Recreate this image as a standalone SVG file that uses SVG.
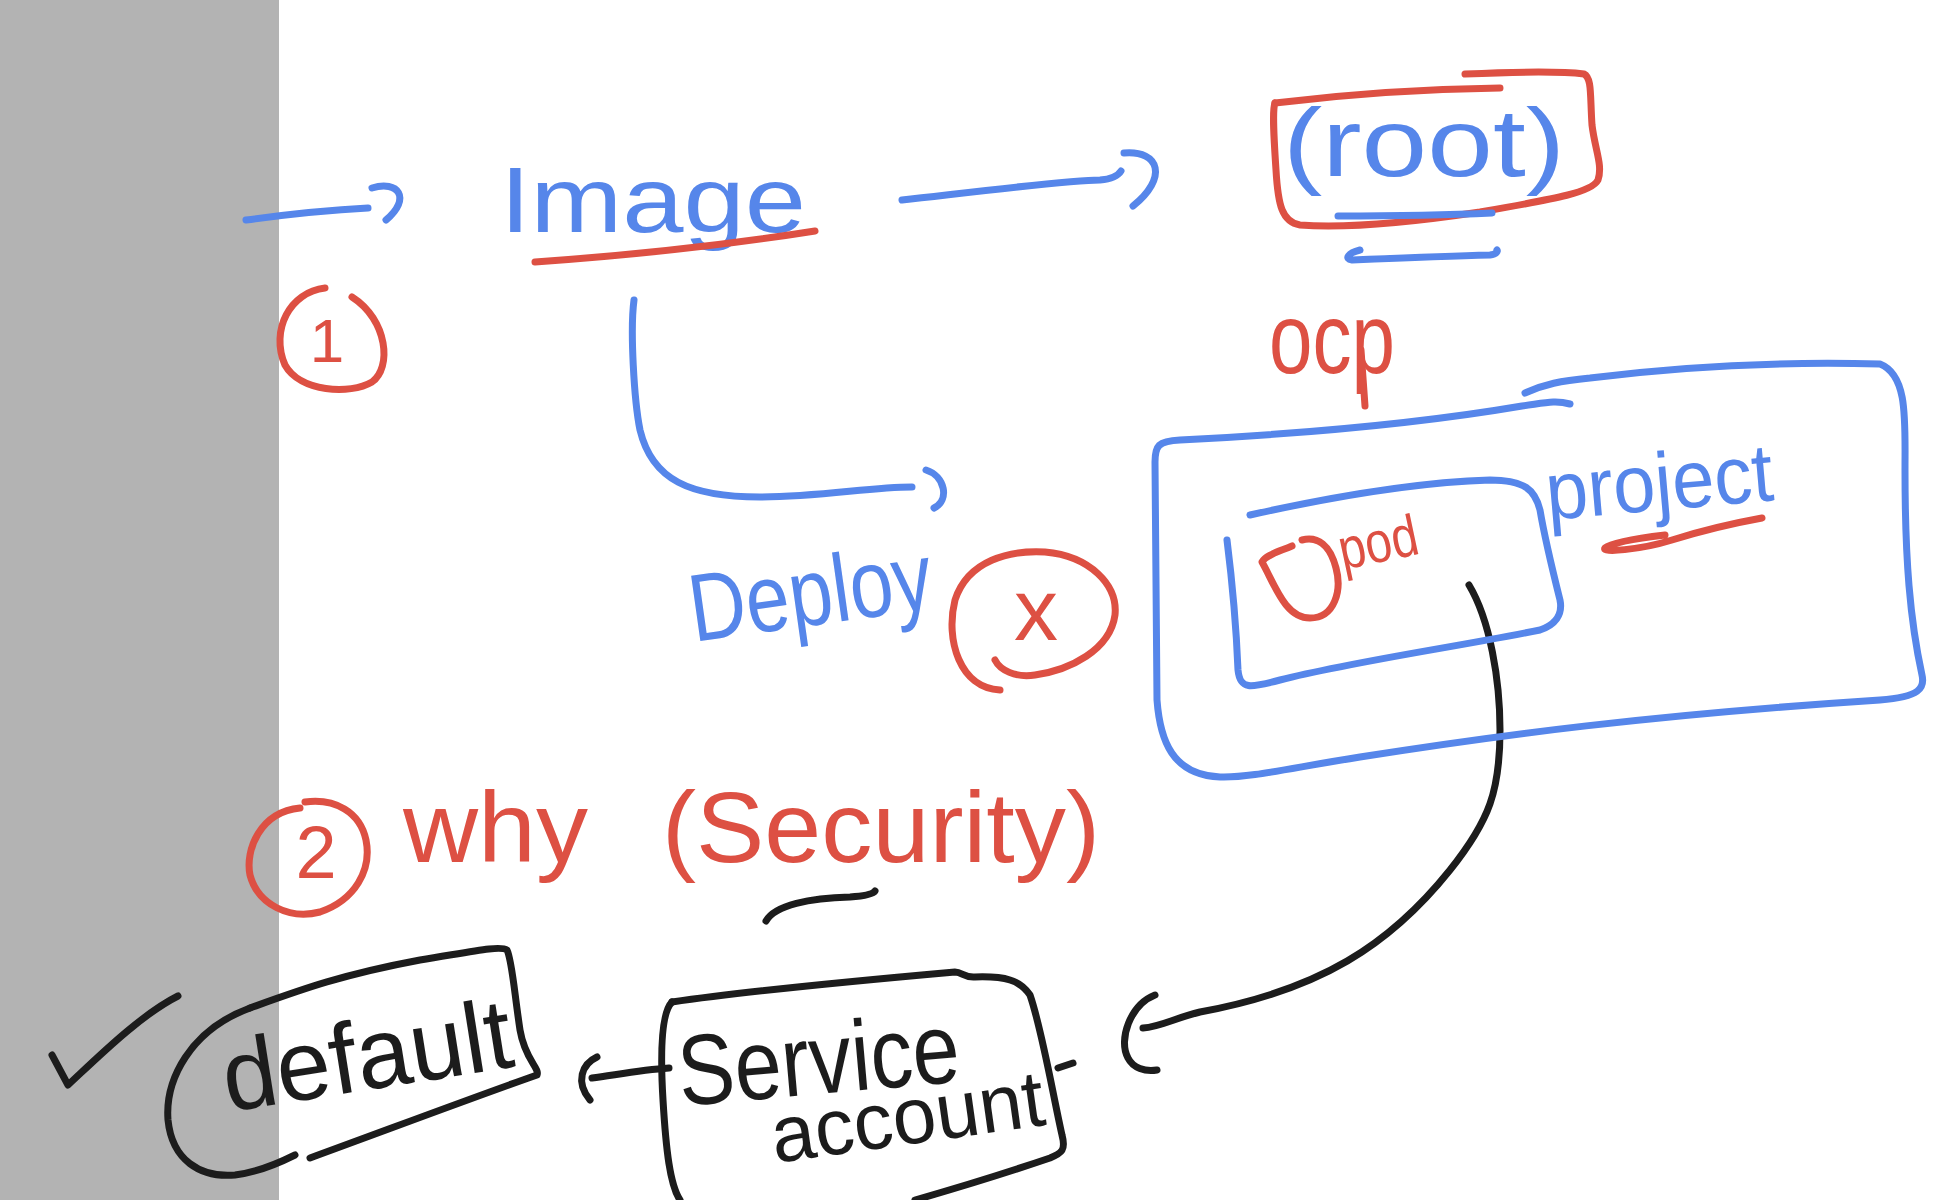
<svg xmlns="http://www.w3.org/2000/svg" width="1960" height="1200" viewBox="0 0 1960 1200">
<style>
.b{fill:none;stroke:#5686ea;stroke-width:7;stroke-linecap:round;stroke-linejoin:round}
.r{fill:none;stroke:#dd5043;stroke-width:7;stroke-linecap:round;stroke-linejoin:round}
.k{fill:none;stroke:#1c1c1c;stroke-width:7;stroke-linecap:round;stroke-linejoin:round}
.tb{fill:#5686ea;font-family:"Liberation Sans",Arial,sans-serif}
.tr{fill:#dd5043;font-family:"Liberation Sans",Arial,sans-serif}
.tk{fill:#1c1c1c;font-family:"Liberation Sans",Arial,sans-serif}
</style>
<rect x="0" y="0" width="1960" height="1200" fill="#ffffff"/>
<rect x="0" y="0" width="279" height="1200" fill="#b3b3b3"/>

<g id="connectors">
  <path class="b" d="M246,220 C290,214 330,210 368,208"/>
  <path class="b" d="M372,188 C398,180 412,198 386,220"/>
  <path class="b" d="M902,200 C990,190 1070,180 1100,180 C1112,179 1118,176 1121,171"/>
  <path class="b" d="M1124,153 C1160,150 1168,178 1133,206"/>
  <path class="b" d="M634,300 C630,330 634,400 640,430 C652,480 690,497 760,497 C820,497 870,487 912,487"/>
  <path class="b" d="M926,470 C945,476 950,500 934,508"/>
  <path class="k" d="M1469,585 C1490,620 1500,680 1500,730 C1500,790 1490,820 1450,870 C1390,945 1320,990 1200,1012 C1175,1018 1160,1027 1143,1028"/>
  <path class="k" d="M1155,995 C1130,1005 1118,1040 1128,1058 C1133,1068 1145,1072 1157,1070"/>
  <path class="k" d="M669,1068 C640,1070 615,1075 592,1078"/>
  <path class="k" d="M597,1057 C582,1064 575,1082 590,1100"/>
</g>

<g id="step1">
  <path class="r" d="M325,288 C290,292 270,330 285,365 C300,392 350,395 372,382 C392,368 388,320 352,297"/>
  <text class="tr" x="327" y="362" font-size="62" text-anchor="middle">1</text>
</g>

<g id="image">
  <text class="tb" x="500" y="232" font-size="92" textLength="306" lengthAdjust="spacingAndGlyphs">Image</text>
  <path class="r" d="M535,262 C620,256 720,246 815,231"/>
</g>

<g id="root">
  <path class="r" d="M1275,103 C1340,95 1420,89 1500,88"/>
  <path class="r" d="M1465,74 C1510,72 1560,71 1584,74 C1592,78 1590,95 1592,125 C1595,150 1603,165 1598,180 C1592,192 1560,198 1480,212 C1400,224 1340,228 1300,225 C1282,222 1278,205 1276,170 C1274,140 1272,110 1275,103"/>
  <text class="tb" x="1283" y="176" font-size="96" textLength="282" lengthAdjust="spacingAndGlyphs">(root)</text>
  <path class="b" d="M1338,216 C1400,216 1450,215 1492,213"/>
  <path class="b" d="M1360,250 C1348,253 1344,259 1352,260 C1400,258 1450,256 1490,255 C1497,254 1498,251 1497,250"/>
</g>

<g id="ocp">
  <text class="tr" x="1269" y="373" font-size="100" textLength="126" lengthAdjust="spacingAndGlyphs">ocp</text>
  <path class="r" d="M1361,350 L1365,406"/>
</g>

<g id="project">
  <path class="b" d="M1570,404 C1555,400 1545,403 1522,406 C1440,420 1340,432 1180,440 C1158,441 1155,446 1155,462 L1157,700 C1160,740 1172,775 1220,777 C1250,778 1290,768 1360,757 C1500,735 1650,715 1880,700 C1920,697 1925,688 1922,675 C1910,620 1905,560 1905,470 C1905,420 1908,375 1880,364 C1800,362 1700,364 1590,378 C1560,381 1545,384 1525,393"/>
  <text class="tb" x="1548" y="520" font-size="82" textLength="228" lengthAdjust="spacingAndGlyphs" transform="rotate(-5 1548 520)">project</text>
  <path class="r" d="M1665,535 C1640,538 1612,542 1605,548 C1600,553 1640,550 1672,540 C1710,528 1740,522 1762,518"/>
</g>

<g id="pod">
  <path class="b" d="M1250,515 C1340,495 1420,482 1490,480 C1525,480 1535,490 1540,510 C1545,540 1555,580 1560,600 C1563,615 1555,625 1540,630 C1450,648 1350,662 1280,680 C1250,688 1240,690 1238,670 C1236,620 1232,580 1227,540"/>
  <path class="r" d="M1292,546 C1278,552 1266,555 1262,562 C1275,585 1285,618 1310,618 C1335,618 1342,590 1336,568 C1330,545 1318,536 1302,540"/>
  <text class="tr" x="1343" y="570" font-size="58" textLength="80" lengthAdjust="spacingAndGlyphs" transform="rotate(-12 1343 570)">pod</text>
</g>

<g id="deploy">
  <text class="tb" x="694" y="642" font-size="96" textLength="244" lengthAdjust="spacingAndGlyphs" transform="rotate(-8 694 642)">Deploy</text>
</g>

<g id="deploy-x">
  <path class="r" d="M1000,690 C960,688 945,640 955,600 C968,560 1010,550 1045,552 C1090,556 1118,585 1115,615 C1110,650 1070,670 1035,675 C1015,678 1000,670 995,660"/>
  <text class="tr" x="1036" y="640" font-size="88" text-anchor="middle">x</text>
</g>

<g id="step2">
  <path class="r" d="M300,808 C260,812 245,850 250,875 C258,905 290,920 320,912 C355,900 372,870 366,840 C360,812 335,798 305,802"/>
  <text class="tr" x="316" y="878" font-size="74" text-anchor="middle">2</text>
</g>

<g id="why">
  <text class="tr" x="403" y="862" font-size="100" textLength="185" lengthAdjust="spacingAndGlyphs">why</text>
  <text class="tr" x="662" y="862" font-size="100" textLength="438" lengthAdjust="spacingAndGlyphs">(Security)</text>
  <path class="k" d="M766,921 C775,905 810,898 850,897 C865,896 873,894 875,891"/>
</g>

<g id="check">
  <path class="k" d="M52,1055 L68,1085 C95,1060 140,1015 178,996"/>
</g>

<g id="default">
  <path class="k" d="M250,1008 C300,990 340,975 420,960 C470,952 500,945 507,950 C512,960 514,990 520,1030 C525,1060 540,1068 537,1075 C480,1095 400,1125 310,1158"/>
  <path class="k" d="M250,1008 C190,1030 165,1080 168,1120 C172,1160 200,1178 235,1175 C260,1172 285,1160 295,1155"/>
  <text class="tk" x="228" y="1112" font-size="100" textLength="292" lengthAdjust="spacingAndGlyphs" transform="rotate(-9 228 1112)">default</text>
</g>

<g id="service-account">
  <path class="k" d="M672,1002 C720,995 820,984 955,972 C962,972 965,978 975,977 C1005,976 1020,980 1030,995 C1042,1030 1052,1090 1062,1135 C1066,1150 1062,1153 1050,1158 C1000,1175 950,1190 915,1200"/>
  <path class="k" d="M672,1002 C662,1012 660,1050 663,1100 C666,1150 670,1185 680,1200"/>
  <path class="k" d="M1058,1068 L1073,1063"/>
  <text class="tk" x="681" y="1106" font-size="100" textLength="282" lengthAdjust="spacingAndGlyphs" transform="rotate(-5 681 1106)">Service</text>
  <text class="tk" x="775" y="1163" font-size="80" textLength="275" lengthAdjust="spacingAndGlyphs" transform="rotate(-8 775 1163)">account</text>
</g>
</svg>
